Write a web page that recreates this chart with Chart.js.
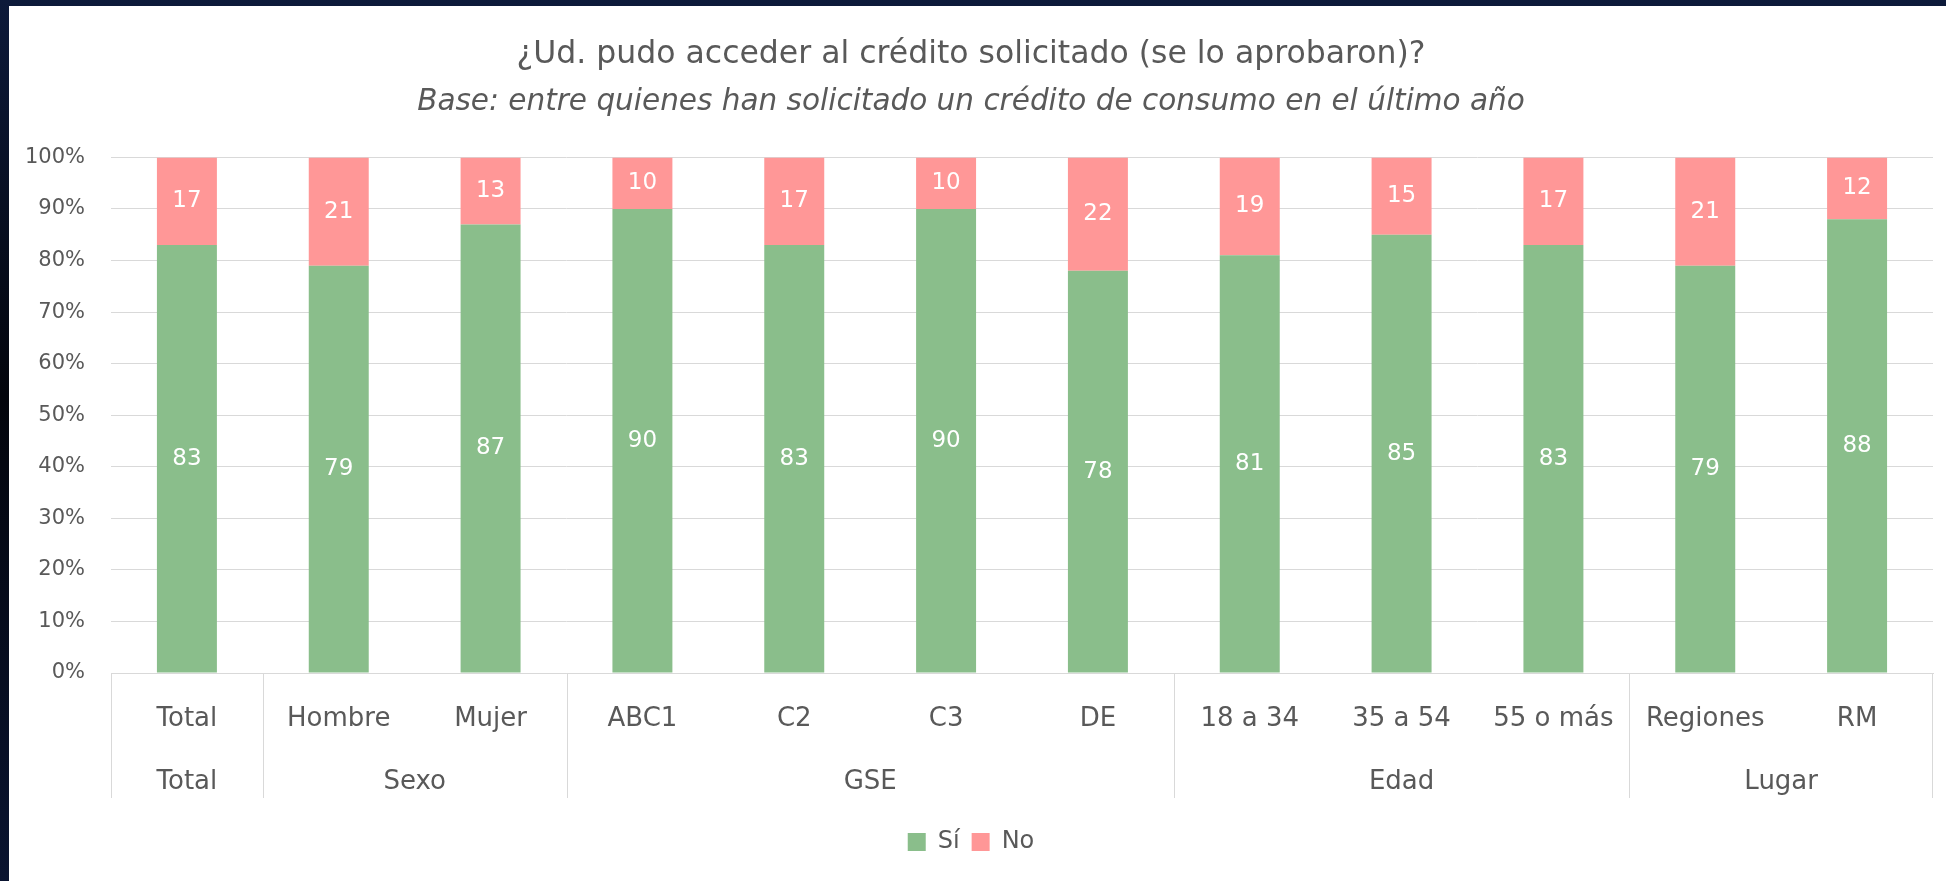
<!DOCTYPE html>
<html lang="es">
<head>
<meta charset="utf-8">
<title>¿Ud. pudo acceder al crédito solicitado?</title>
<script src="https://cdn.jsdelivr.net/npm/chart.js@4.4.1/dist/chart.umd.min.js"></script>
<style>
  html, body { margin: 0; padding: 0; width: 1946px; height: 881px; overflow: hidden; }
  body { background: linear-gradient(180deg, #0d1a3a 0%, #03050c 45%, #0a1430 100%); }
  #panel { position: absolute; left: 9px; top: 6px; width: 1937px; height: 875px; background: #fff; }
  #chart { display: block; }
</style>
</head>
<body>
<div id="panel"><canvas id="chart" width="1937" height="875"></canvas></div>
<script>
// data
const categories = ['Total', 'Hombre', 'Mujer', 'ABC1', 'C2', 'C3', 'DE', '18 a 34', '35 a 54', '55 o más', 'Regiones', 'RM'];
const groups     = ['Total', 'Sexo', 'GSE', 'Edad', 'Lugar'];
const groupSizes = [1, 2, 4, 3, 2];
const siValues   = [83, 79, 87, 90, 83, 90, 78, 81, 85, 83, 79, 88];
const noValues   = [17, 21, 13, 10, 17, 10, 22, 19, 15, 17, 21, 12];
const yTickStep  = 10;

const textColor = '#595959';
const gridColor = '#d9d9d9';
const FONT = "'DejaVu Sans', sans-serif";

// white numbers in the middle of every segment
const segmentLabels = {
    id: 'segmentLabels',
    afterDatasetsDraw(chart) {
        const ctx = chart.ctx;
        ctx.save();
        ctx.font = `23px ${FONT}`;
        ctx.fillStyle = '#ffffff';
        ctx.textAlign = 'center';
        ctx.textBaseline = 'middle';
        chart.data.datasets.forEach((ds, di) => {
            chart.getDatasetMeta(di).data.forEach((bar, i) => {
                const { x, y, base } = bar.getProps(['x', 'y', 'base'], true);
                ctx.fillText(String(ds.data[i]), x, (y + base) / 2);
            });
        });
        ctx.restore();
    }
};

// second row of the category axis: group names + separators
const groupAxis = {
    id: 'groupAxis',
    afterDraw(chart) {
        const xs = chart.scales.x;
        const ctx = chart.ctx;
        const top = chart.chartArea.bottom;
        const bottom = top + 125;
        const half = (xs.getPixelForValue(1) - xs.getPixelForValue(0)) / 2;

        ctx.save();
        ctx.strokeStyle = gridColor;
        ctx.lineWidth = 1;
        ctx.fillStyle = textColor;
        ctx.font = `26px ${FONT}`;
        ctx.textAlign = 'center';
        ctx.textBaseline = 'middle';

        let start = 0;
        let right = 0;
        groups.forEach((g, i) => {
            const end = start + groupSizes[i] - 1;
            const left = xs.getPixelForValue(start) - half;
            right = xs.getPixelForValue(end) + half;
            const lx = Math.round(left) + 0.5;
            ctx.beginPath();
            ctx.moveTo(lx, top);
            ctx.lineTo(lx, bottom);
            ctx.stroke();
            ctx.fillText(g, (left + right) / 2, top + 109);
            start = end + 1;
        });
        const rx = Math.round(right) - 0.5;
        ctx.beginPath();
        ctx.moveTo(rx, top);
        ctx.lineTo(rx, bottom);
        ctx.stroke();
        ctx.restore();
    }
};

new Chart(document.getElementById('chart'), {
    type: 'bar',
    data: {
        labels: categories,
        datasets: [
            { label: 'Sí', data: siValues, backgroundColor: '#8abe8b' },
            { label: 'No', data: noValues, backgroundColor: '#ff9797' }
        ]
    },
    options: {
        responsive: false,
        animation: false,
        devicePixelRatio: 1,
        layout: { padding: { left: 0, right: 13, top: 0, bottom: 17 } },
        datasets: { bar: { categoryPercentage: 1, barPercentage: 0.395 } },
        plugins: {
            title: {
                display: true,
                text: '¿Ud. pudo acceder al crédito solicitado (se lo aprobaron)?',
                color: textColor,
                font: { family: FONT, size: 31.5, weight: 'normal' },
                padding: { top: 29.5, bottom: 0 }
            },
            subtitle: {
                display: true,
                text: 'Base: entre quienes han solicitado un crédito de consumo en el último año',
                color: textColor,
                font: { family: FONT, size: 29.5, style: 'italic' },
                padding: { top: 11.7, bottom: 37 }
            },
            legend: {
                position: 'bottom',
                labels: {
                    color: textColor,
                    font: { family: FONT, size: 24 },
                    boxWidth: 18,
                    boxHeight: 18,
                    padding: 12
                }
            },
            tooltip: { enabled: false }
        },
        scales: {
            x: {
                stacked: true,
                grid: { display: false },
                border: { display: true, color: gridColor },
                ticks: { color: textColor, font: { family: FONT, size: 26 }, padding: 23, maxRotation: 0, autoSkip: false },
                afterFit: s => { s.height = 145; }
            },
            y: {
                stacked: true,
                min: 0,
                max: 100,
                grid: { color: gridColor, drawTicks: false },
                border: { display: false },
                ticks: {
                    stepSize: yTickStep,
                    color: textColor,
                    font: { family: FONT, size: 21 },
                    padding: 26,
                    callback: v => v + '%'
                },
                afterFit: s => { s.width = 102; }
            }
        }
    },
    plugins: [segmentLabels, groupAxis]
});
</script>
</body>
</html>
